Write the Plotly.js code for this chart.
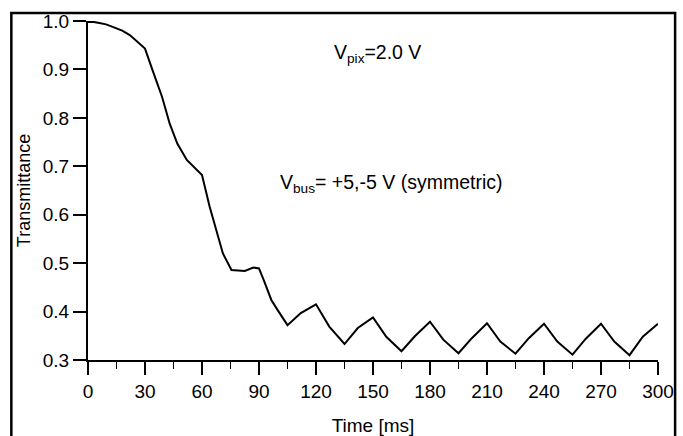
<!DOCTYPE html>
<html>
<head>
<meta charset="utf-8">
<script src="https://cdn.plot.ly/plotly-3.0.1.min.js"></script>
<style>html,body{margin:0;padding:0;background:#fff;}#chart{width:683px;height:436px;}</style>
</head>
<body>
<div id="chart"></div>
<script>
var timeMs = [0, 3, 6, 9.5, 13, 18, 22, 26, 30, 34, 39, 43, 47, 52, 56, 60, 64, 68, 71, 75.5, 82.5, 87, 90, 92.5, 96.5, 100, 105, 112, 120, 127, 135, 142, 150, 157, 165, 172, 180, 187, 195, 202, 210, 217, 225, 232, 240, 247, 255, 262, 270, 277, 285, 292, 300];
var transmittance = [0.998, 0.998, 0.996, 0.993, 0.988, 0.980, 0.971, 0.958, 0.943, 0.898, 0.843, 0.788, 0.747, 0.713, 0.697, 0.682, 0.617, 0.562, 0.520, 0.486, 0.484, 0.491, 0.489, 0.465, 0.424, 0.402, 0.372, 0.397, 0.415, 0.369, 0.333, 0.366, 0.388, 0.348, 0.318, 0.349, 0.379, 0.342, 0.314, 0.345, 0.376, 0.338, 0.313, 0.345, 0.375, 0.338, 0.311, 0.344, 0.375, 0.338, 0.310, 0.348, 0.375];
var xTickVals = [0, 30, 60, 90, 120, 150, 180, 210, 240, 270, 300];
var yTickVals = [0.3, 0.4, 0.5, 0.6, 0.7, 0.8, 0.9, 1.0];
var yTickText = ['0.3', '0.4', '0.5', '0.6', '0.7', '0.8', '0.9', '1.0'];
var xTitle = 'Time [ms]';
var yTitle = 'Transmittance';
var noteVpix = 'V<sub>pix</sub>=2.0 V';
var noteVbus = 'V<sub>bus</sub>= +5,-5 V (symmetric)';

var fontFam = 'Liberation Sans, Arial, sans-serif';
var trace = {
  x: timeMs, y: transmittance, type: 'scatter', mode: 'lines',
  line: {color: '#000', width: 2}, hoverinfo: 'skip'
};
var layout = {
  width: 683, height: 436,
  margin: {l: 88, r: 25, t: 21, b: 76},
  paper_bgcolor: '#fff', plot_bgcolor: '#fff',
  showlegend: false,
  font: {family: fontFam, color: '#000', size: 19},
  xaxis: {
    range: [0, 300], tickvals: xTickVals, ticktext: xTickVals.map(String),
    showgrid: false, zeroline: false, showline: true, linecolor: '#000', linewidth: 2,
    ticks: 'outside', ticklen: 13, tickwidth: 2, tickcolor: '#000',
    tickfont: {family: fontFam, size: 19, color: '#000'},
    minor: {ticks: 'outside', ticklen: 7, tickwidth: 1.5, tickcolor: '#000', dtick: 15, tick0: 0, showgrid: false},
    title: {text: xTitle, font: {family: fontFam, size: 19, color: '#000'}, standoff: 24},
    fixedrange: true
  },
  yaxis: {
    range: [0.3, 1.0], tickvals: yTickVals, ticktext: yTickText,
    showgrid: false, zeroline: false, showline: true, linecolor: '#000', linewidth: 2,
    ticks: 'outside', ticklen: 13, tickwidth: 2, tickcolor: '#000',
    tickfont: {family: fontFam, size: 19, color: '#000'},
    title: {text: yTitle, font: {family: fontFam, size: 18, color: '#000'}, standoff: 7},
    fixedrange: true
  },
  shapes: [{
    type: 'rect', xref: 'paper', yref: 'paper',
    x0: -0.1345, x1: 1.03, y0: -0.4, y1: 1.0236,
    line: {color: '#000', width: 2.5}, fillcolor: 'rgba(0,0,0,0)'
  }],
  annotations: [
    {text: noteVpix, xref: 'paper', yref: 'paper', x: 0.4275, y: 0.905, xanchor: 'left', yanchor: 'middle', showarrow: false, font: {family: fontFam, size: 19.5, color: '#000'}},
    {text: noteVbus, xref: 'paper', yref: 'paper', x: 0.333, y: 0.5217, xanchor: 'left', yanchor: 'middle', showarrow: false, font: {family: fontFam, size: 19.5, color: '#000'}}
  ]
};
Plotly.newPlot('chart', [trace], layout, {staticPlot: true, displayModeBar: false});
</script>
</body>
</html>
